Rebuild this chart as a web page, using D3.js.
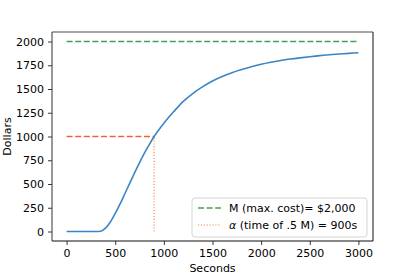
<!DOCTYPE html>
<html>
  <head>
    <meta http-equiv="Content-Type" content="text/html; charset=UTF-8">
    <script src="https://d3js.org/d3.v7.min.js"></script>
    <style>
      body { margin: 0; background: #fff; }
      text { font-family: "DejaVu Sans", sans-serif; fill: #000; }
    </style>
  </head>

  <body>
    <div id="chart"></div>

    <script>
      // values
      var seconds = [0, 100, 200, 300, 350, 400, 450, 500, 550, 600, 650, 700, 750, 800, 850, 900,
                     1000, 1100, 1200, 1300, 1400, 1500, 1600, 1700, 1800, 1900, 2000, 2100,
                     2200, 2300, 2400, 2500, 2600, 2700, 2800, 2900, 3000];
      var dollars = [0, 0, 0, 0, 3, 35, 100, 190, 290, 400, 510, 620, 725, 825, 915, 1000,
                     1140, 1260, 1370, 1455, 1525, 1585, 1632, 1672, 1705, 1735, 1760, 1781,
                     1800, 1815, 1828, 1840, 1851, 1860, 1868, 1875, 1882];
      var maxCost = 2000;
      var alpha = 900;
      var xTicks = [0, 500, 1000, 1500, 2000, 2500, 3000];
      var yTicks = [0, 250, 500, 750, 1000, 1250, 1500, 1750, 2000];

      var width = 415, height = 277;
      var mLeft = 52, mRight = 373, mTop = 32, mBottom = 241;

      var svg = d3.select("#chart").append("svg")
        .attr("width", width).attr("height", height);

      var x = d3.scaleLinear().domain([-150, 3150]).range([mLeft, mRight]);
      var y = d3.scaleLinear().domain([-100, 2100]).range([mBottom, mTop]);

      // reference lines
      svg.append("line")
        .attr("x1", x(0)).attr("x2", x(3000))
        .attr("y1", y(maxCost)).attr("y2", y(maxCost))
        .attr("stroke", "#3aa851").attr("stroke-width", 1.6)
        .attr("stroke-dasharray", "6,2.6");

      svg.append("line")
        .attr("x1", x(0)).attr("x2", x(alpha))
        .attr("y1", y(maxCost / 2)).attr("y2", y(maxCost / 2))
        .attr("stroke", "#ec6430").attr("stroke-width", 1.6)
        .attr("stroke-dasharray", "6,2.6");

      svg.append("line")
        .attr("x1", x(alpha)).attr("x2", x(alpha))
        .attr("y1", y(0)).attr("y2", y(maxCost / 2))
        .attr("stroke", "#f5813f").attr("stroke-width", 1.1)
        .attr("stroke-dasharray", "1.1,1.8");

      // cost curve
      var line = d3.line()
        .x(function(d, i) { return x(seconds[i]); })
        .y(function(d) { return y(d); })
        .curve(d3.curveMonotoneX);

      svg.append("path")
        .datum(dollars)
        .attr("d", line)
        .attr("fill", "none")
        .attr("stroke", "#3b85c4")
        .attr("stroke-width", 1.6);

      // axes
      var xAxis = svg.append("g")
        .attr("transform", "translate(0," + mBottom + ")")
        .call(d3.axisBottom(x).tickValues(xTicks).tickFormat(d3.format("d")).tickSize(4).tickPadding(4));
      var yAxis = svg.append("g")
        .attr("transform", "translate(" + mLeft + ",0)")
        .call(d3.axisLeft(y).tickValues(yTicks).tickFormat(d3.format("d")).tickSize(4).tickPadding(4));

      [xAxis, yAxis].forEach(function(g) {
        g.select(".domain").remove();
        g.selectAll("text").attr("font-size", 11).attr("font-family", "DejaVu Sans").attr("fill", "#000");
        g.selectAll("line").attr("stroke", "#222").attr("stroke-width", 0.9);
      });

      // spines
      svg.append("line").attr("x1", mLeft).attr("x2", mRight).attr("y1", mTop).attr("y2", mTop)
        .attr("stroke", "#888").attr("stroke-width", 1.6);
      svg.append("line").attr("x1", mLeft).attr("x2", mLeft).attr("y1", mTop).attr("y2", mBottom)
        .attr("stroke", "#333").attr("stroke-width", 1);
      svg.append("line").attr("x1", mRight).attr("x2", mRight).attr("y1", mTop).attr("y2", mBottom)
        .attr("stroke", "#111").attr("stroke-width", 1);
      svg.append("line").attr("x1", mLeft).attr("x2", mRight).attr("y1", mBottom).attr("y2", mBottom)
        .attr("stroke", "#111").attr("stroke-width", 1);

      // axis labels
      svg.append("text")
        .attr("x", (mLeft + mRight) / 2).attr("y", 272)
        .attr("text-anchor", "middle").attr("font-size", 11)
        .text("Seconds");
      svg.append("text")
        .attr("transform", "translate(11," + (mTop + mBottom) / 2 + ") rotate(-90)")
        .attr("text-anchor", "middle").attr("font-size", 11)
        .text("Dollars");

      // legend
      var legend = svg.append("g").attr("transform", "translate(192,198)");
      legend.append("rect")
        .attr("width", 175).attr("height", 39).attr("rx", 3)
        .attr("fill", "#fff").attr("fill-opacity", 0.8)
        .attr("stroke", "#d5d5d5").attr("stroke-width", 1);

      legend.append("line")
        .attr("x1", 6).attr("x2", 29).attr("y1", 10).attr("y2", 10)
        .attr("stroke", "#3aa851").attr("stroke-width", 1.6)
        .attr("stroke-dasharray", "6,2.6");
      legend.append("text")
        .attr("x", 37).attr("y", 14).attr("font-size", 11)
        .text("M (max. cost)= $2,000");

      legend.append("line")
        .attr("x1", 6).attr("x2", 29).attr("y1", 27).attr("y2", 27)
        .attr("stroke", "#f5813f").attr("stroke-width", 1.1)
        .attr("stroke-dasharray", "1.1,1.8");
      var t2 = legend.append("text")
        .attr("x", 37).attr("y", 31).attr("font-size", 11);
      t2.append("tspan").attr("font-style", "italic").text("α");
      t2.append("tspan").text(" (time of .5 M) = 900s");
    </script>
  </body>
</html>
